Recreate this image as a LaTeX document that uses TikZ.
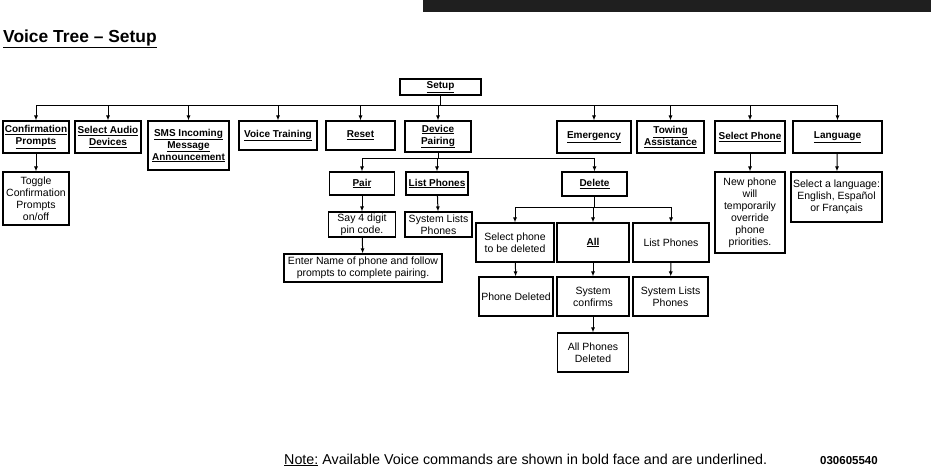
\documentclass[tikz,border=0pt]{standalone}
\usepackage{fontspec}
\setmainfont{Liberation Sans}
\usetikzlibrary{arrows.meta}

\begin{document}
\begin{tikzpicture}[x=1pt,y=-1pt,
  box/.style={draw,line width=1.1pt,inner sep=1pt,align=center,
    font=\fontsize{10.5}{12}\selectfont},
  cmd/.style={box,font=\bfseries\fontsize{10}{12}\selectfont},
  arr/.style={-{Latex[length=5pt,width=4pt]},line width=1pt},
  bus/.style={line width=1pt}]
\useasboundingbox (0,0) rectangle (931,469);
\fill[black!88] (423,0) rectangle (931,12);
\node[anchor=base west,inner sep=0,font=\bfseries\fontsize{17.4}{20}\selectfont] (title) at (3,42) {\underline{Voice Tree – Setup}};

   % top level
   \node[cmd,minimum width=81,minimum height=16] (setup) at (440.5,87) {\underline{Setup}};

   \node[cmd,minimum width=66,minimum height=32] (conf) at (36,137) {\underline{Confirmation}\\\underline{Prompts}};
   \node[cmd,minimum width=66,minimum height=32] (audio) at (108,137) {\underline{Select Audio}\\\underline{Devices}};
   \node[cmd,minimum width=81,minimum height=49] (sms) at (188.5,145.5) {\underline{SMS Incoming}\\\underline{Message}\\\underline{Announcement}};
   \node[cmd,minimum width=78,minimum height=29] (voice) at (278,135.5) {\underline{Voice Training}};
   \node[cmd,minimum width=69,minimum height=29] (reset) at (360.5,135.5) {\underline{Reset}};
   \node[cmd,minimum width=66,minimum height=31] (pairing) at (438,136.5) {\underline{Device}\\\underline{Pairing}};
   \node[cmd,minimum width=74,minimum height=32] (emerg) at (594,137) {\underline{Emergency}};
   \node[cmd,minimum width=67,minimum height=32] (towing) at (670.5,137) {\underline{Towing}\\\underline{Assistance}};
   \node[cmd,minimum width=70,minimum height=32] (selph) at (750,137) {\underline{Select Phone}};
   \node[cmd,minimum width=89,minimum height=32] (lang) at (837.5,137) {\underline{Language}};

   % second level
   \node[box,minimum width=66,minimum height=53] (toggle) at (36,198.5) {Toggle\\Confirmation\\Prompts\\on/off};
   \node[cmd,minimum width=65,minimum height=23] (pair) at (362,183.5) {\underline{Pair}};
   \node[cmd,minimum width=62,minimum height=23] (listph) at (437,183.5) {\underline{List Phones}};
   \node[cmd,minimum width=65,minimum height=24] (delete) at (594.5,184) {\underline{Delete}};
   \node[box,minimum width=70,minimum height=81] (newph) at (750,212.5) {New phone\\will\\temporarily\\override\\phone\\priorities.};
   \node[box,minimum width=91,minimum height=50] (sellang) at (836.5,197) {Select a language:\\English, Español\\or Français};

   % pairing
   \node[box,minimum width=67,minimum height=25] (pin) at (362,224.5) {Say 4 digit\\pin code.};
   \node[box,minimum width=67,minimum height=25] (syslist1) at (438.5,224.5) {System Lists\\Phones};
   \node[box,minimum width=158,minimum height=28] (enter) at (363,268) {Enter Name of phone and follow\\prompts to complete pairing.};

   % delete
   \node[box,minimum width=78,minimum height=39] (seldel) at (515,242.5) {Select phone\\to be deleted};
   \node[cmd,minimum width=72,minimum height=39] (all) at (593,242.5) {\underline{All}};
   \node[box,minimum width=76,minimum height=39] (listph2) at (671,242.5) {List Phones};
   \node[box,minimum width=74,minimum height=39] (phdel) at (516,296.5) {Phone Deleted};
   \node[box,minimum width=72,minimum height=39] (confirms) at (593,296.5) {System\\confirms};
   \node[box,minimum width=75,minimum height=39] (syslist2) at (670.5,296.5) {System Lists\\Phones};
   \node[box,minimum width=71,minimum height=39] (allphdel) at (593,352.5) {All Phones\\Deleted};

   % buses
   \coordinate (b1l) at (36,105);
   \coordinate (b1r) at (837.5,105);
   \coordinate (b2l) at (362,158);
   \coordinate (b2r) at (594.5,158);
   \coordinate (b3l) at (515,207);
   \coordinate (b3r) at (671,207);
   \draw[bus] (b1l) -- (b1r);
   \draw[bus] (b2l) -- (b2r);
   \draw[bus] (b3l) -- (b3r);
   \draw[bus] (setup) -- (setup |- b1l);
   \draw[bus] (pairing) -- (pairing |- b2l);
   \draw[bus] (delete) -- (delete |- b3l);

   \foreach \n in {conf,audio,sms,voice,reset,pairing,emerg,towing,selph,lang}
     \draw[arr] (\n |- b1l) -- (\n);
   \foreach \n in {pair,listph,delete}
     \draw[arr] (\n |- b2l) -- (\n);
   \foreach \n in {seldel,all,listph2}
     \draw[arr] (\n |- b3l) -- (\n);

   \draw[arr] (conf) -- (toggle);
   \draw[arr] (selph) -- (newph);
   \draw[arr] (lang) -- (sellang);
   \draw[arr] (pair) -- (pin);
   \draw[arr] (pin) -- (enter);
   \draw[arr] (listph) -- (syslist1);
   \draw[arr] (seldel) -- (phdel);
   \draw[arr] (all) -- (confirms);
   \draw[arr] (confirms) -- (allphdel);
   \draw[arr] (listph2) -- (syslist2);

\node[anchor=base west,inner sep=0,font=\fontsize{14.3}{16}\selectfont] (note) at (284,464) {\underline{Note:} Available Voice commands are shown in bold face and are underlined.};
\node[anchor=base west,inner sep=0,font=\bfseries\fontsize{11.5}{13}\selectfont] (code) at (820,464) {030605540};
\end{tikzpicture}
\end{document}
